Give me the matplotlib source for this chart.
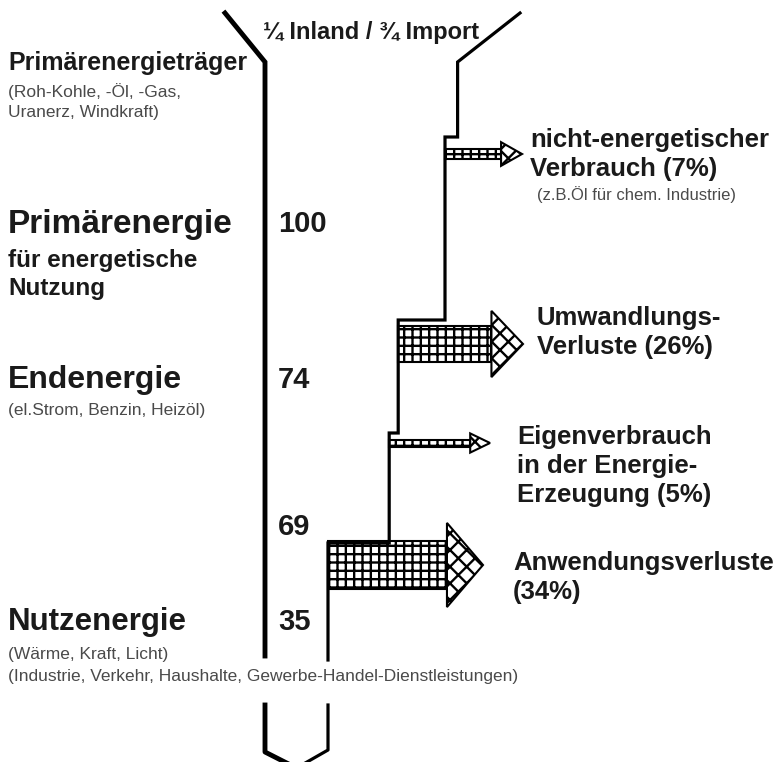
import matplotlib.pyplot as plt
from matplotlib.patches import Polygon

plt.rcParams['font.family'] = ['Liberation Sans', 'DejaVu Sans']
plt.rcParams['hatch.linewidth'] = 1.7

# Energiefluss (Primärenergie = 100)
stufen = ['Primärenergie', 'Endenergie', '', 'Nutzenergie']
stufen_werte = [100, 74, 69, 35]
verluste = [7, 26, 5, 34]
verlust_texte = [
    ['nicht-energetischer', 'Verbrauch (7%)'],
    ['Umwandlungs-', 'Verluste (26%)'],
    ['Eigenverbrauch', 'in der Energie-', 'Erzeugung (5%)'],
    ['Anwendungsverluste', '(34%)'],
]

# Layout (Pixelkoordinaten)
px = 1.8            # Pixel je Einheit
x_links = 265
y_oben = 62
stufe_y = [137, 320, 433, 543]
pfeil_y = [154, 344, 443, 565]
spitze_x = [522, 523, 490, 483]
zahl_y = [224, 380, 527, 622]
text_x = [530, 537, 517, 513]
text_y = [140, 318, 437, 563]

fig = plt.figure(figsize=(7.8, 7.62), dpi=100)
ax = fig.add_axes([0, 0, 1, 1])
ax.set_xlim(0, 780)
ax.set_ylim(762, 0)
ax.axis('off')

# Breite der Leitung nach jedem Verlust
gesamt = stufen_werte[0] + verluste[0]
breiten = [gesamt]
for v in verluste:
    breiten.append(breiten[-1] - v)
wand_x = [x_links + b * px for b in breiten]

# linke Wand mit Trichter
ax.plot([225, x_links, x_links], [13, y_oben, 656], color='black', lw=3.5,
        solid_joinstyle='miter')
# rechte Wand, stufenweise
xs = [520, wand_x[0]]
ys = [13, y_oben]
for i, sy in enumerate(stufe_y):
    xs += [wand_x[i], wand_x[i + 1]]
    ys += [sy, sy]
xs.append(wand_x[-1])
ys.append(660)
ax.plot(xs, ys, color='black', lw=2.3, solid_joinstyle='miter')

# unteres Ende
mitte = (x_links + wand_x[-1]) / 2
ax.plot([x_links, x_links, mitte], [705, 752, 768], color='black', lw=3.5)
ax.plot([wand_x[-1], wand_x[-1], mitte], [705, 750, 768], color='black', lw=2.3)

# Verlustpfeile
for i, v in enumerate(verluste):
    b = v * 1.4
    h = 1.6 * b + 8
    kl = 0.25 * h + 15
    x0 = wand_x[i + 1]
    cy = pfeil_y[i]
    xk = spitze_x[i] - kl
    koerper = Polygon([(x0, cy - b / 2), (xk, cy - b / 2), (xk, cy + b / 2), (x0, cy + b / 2)],
                      closed=True, facecolor='white', edgecolor='black', hatch='++', lw=1.5)
    kopf = Polygon([(xk, cy - h / 2), (spitze_x[i], cy), (xk, cy + h / 2)],
                   closed=True, facecolor='white', edgecolor='black', hatch='xx', lw=1.5)
    ax.add_patch(koerper)
    ax.add_patch(kopf)
    for j, t in enumerate(verlust_texte[i]):
        ax.text(text_x[i], text_y[i] + j * 29, t, fontsize=18.5, fontweight='bold',
                va='center', ha='left', color='#1a1a1a')

dunkel = '#1a1a1a'
grau = '#4a4a4a'
ax.text(537, 195, '(z.B.Öl für chem. Industrie)', fontsize=12, va='center', color=grau)

# Zahlen in der Leitung
for w, y in zip(stufen_werte, zahl_y):
    ax.text(278, y, str(w), fontsize=21, fontweight='bold', va='center', color=dunkel)

ax.text(371, 33, '¼ Inland / ¾ Import', fontsize=17, fontweight='bold', ha='center',
        va='center', color=dunkel)

# Beschriftungen links
ax.text(8, 63, 'Primärenergieträger', fontsize=18, fontweight='bold', va='center', color=dunkel)
ax.text(8, 92, '(Roh-Kohle, -Öl, -Gas,', fontsize=12.5, va='center', color=grau)
ax.text(8, 113, 'Uranerz, Windkraft)', fontsize=12.5, va='center', color=grau)
ax.text(8, zahl_y[0], stufen[0], fontsize=24, fontweight='bold', va='center', color=dunkel)
ax.text(8, 260, 'für energetische', fontsize=17.5, fontweight='bold', va='center', color=dunkel)
ax.text(8, 289, 'Nutzung', fontsize=17.5, fontweight='bold', va='center', color=dunkel)
ax.text(8, zahl_y[1], stufen[1], fontsize=23, fontweight='bold', va='center', color=dunkel)
ax.text(8, 410, '(el.Strom, Benzin, Heizöl)', fontsize=12.5, va='center', color=grau)
ax.text(8, zahl_y[3], stufen[3], fontsize=22.5, fontweight='bold', va='center', color=dunkel)
ax.text(8, 655, '(Wärme, Kraft, Licht)', fontsize=12.5, va='center', color=grau)
ax.text(8, 677, '(Industrie, Verkehr, Haushalte, Gewerbe-Handel-Dienstleistungen)',
        fontsize=12.5, va='center', color=grau)

fig.savefig('out.png', dpi=100)
